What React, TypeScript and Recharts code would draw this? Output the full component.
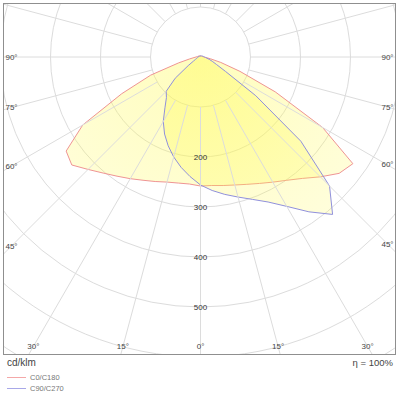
import { RadarChart, Radar, PolarGrid, PolarAngleAxis, PolarRadiusAxis } from 'recharts';

// gamma 0..180 in 5° steps (0 = nadir), values in cd/klm
const gammaSteps = [0, 5, 10, 15, 20, 25, 30, 35, 40, 45, 50, 55, 60, 65, 70, 75, 80, 85, 90, 95, 100, 105, 110, 115, 120, 125, 130, 135, 140, 145, 150, 155, 160, 165, 170, 175, 180];

const c0 = [258, 258, 261, 265, 271, 279, 289, 301, 317, 339, 362, 372, 282, 165, 84, 42, 20, 10, 6, 5, 4, 4, 3, 3, 3, 3, 2, 2, 2, 2, 2, 2, 2, 2, 2, 2, 2];
const c180 = [256, 255, 256, 259, 265, 272, 281, 291, 303, 318, 336, 328, 272, 174, 106, 45, 22, 13, 9, 7, 6, 5, 5, 4, 4, 4, 3, 3, 3, 3, 2, 2, 2, 2, 2, 2, 2];
const c90 = [256, 268, 279, 290, 303, 320, 345, 378, 411, 365, 262, 135, 58, 35, 25, 18, 13, 10, 8, 7, 6, 5, 5, 4, 4, 4, 3, 3, 3, 3, 2, 2, 2, 2, 2, 2, 2];
const c270 = [256, 240, 224, 207, 189, 170, 149, 124, 106, 97, 66, 30, 16, 11, 8, 7, 6, 5, 5, 4, 4, 4, 3, 3, 3, 3, 3, 2, 2, 2, 2, 2, 2, 2, 2, 2, 2];

const radiusLabels = [200, 300, 400, 500];
const angleTicks = [0, 15, 30, 45, 60, 75, 90, 105, 120, 135, 150, 165, 180, 195, 210, 225, 240, 255, 270, 285, 300, 315, 330, 345];
const gridRadii = [50, 100, 150, 200, 250, 300, 350];

const W = 391;
const H = 350;
const CX = 196.5;
const CY = 53;
const R = 350;
const INSET = 7.5;

// theta runs once round the circle from the nadir; right half is C0 / C90, left half C180 / C270
const rows = gammaSteps
  .concat(gammaSteps.slice(1, -1).reverse().map((g) => 360 - g))
  .map((theta, i) => {
    const right = theta <= 180;
    const idx = right ? i : 72 - i;
    return {
      theta,
      c0c180: right ? c0[idx] : c180[idx],
      c90c270: right ? c90[idx] : c270[idx],
    };
  });

const font = '"Liberation Sans", Arial, sans-serif';

function AngleTick(props: any) {
  const v = props.payload?.value;
  if (v === undefined || (v > 90 && v < 270)) return null;
  const rad = (v * Math.PI) / 180;
  const dx = Math.sin(rad);
  const dy = Math.cos(rad);
  let t = Infinity;
  if (dx > 1e-6) t = Math.min(t, (W - INSET - CX) / dx);
  if (dx < -1e-6) t = Math.min(t, (INSET - CX) / dx);
  if (dy > 1e-6) t = Math.min(t, (H - INSET - CY) / dy);
  const gamma = v <= 180 ? v : 360 - v;
  return (
    <text x={CX + t * dx} y={CY + t * dy} textAnchor="middle" dominantBaseline="central" fontSize={8} fill="#444" fontFamily={font}>
      {gamma}°
    </text>
  );
}

function RadiusTick(props: any) {
  const v = props.payload?.value;
  if (!radiusLabels.includes(v)) return null;
  return (
    <text x={props.x} y={props.y} textAnchor="middle" dominantBaseline="central" fontSize={8} fill="#333" fontFamily={font}>
      {v}
    </text>
  );
}

export default function App() {
  return (
    <div style={{ position: 'absolute', left: 0, top: 0, width: 400, height: 398, background: '#fff', fontFamily: font }}>
      <div style={{ position: 'absolute', left: 3, top: 3, width: W + 2, height: H + 2, border: '1px solid #8f8f8f', boxSizing: 'border-box', overflow: 'hidden' }}>
        <RadarChart
          width={W}
          height={H}
          data={rows}
          cx={CX}
          cy={CY}
          outerRadius={R}
          startAngle={-90}
          endAngle={270}
          margin={{ top: 0, right: 0, bottom: 0, left: 0 }}
        >
          <defs>
            <radialGradient id="lightFill" gradientUnits="userSpaceOnUse" cx={CX} cy={CY} r={R}>
              <stop offset="0%" stopColor="#fffa50" stopOpacity={0.38} />
              <stop offset="100%" stopColor="#fffa50" stopOpacity={0.08} />
            </radialGradient>
          </defs>
          <PolarGrid gridType="circle" radialLines={false} polarRadius={gridRadii} stroke="#dcdcdc" />
          <PolarAngleAxis
            dataKey="theta"
            type="number"
            domain={[0, 360]}
            ticks={angleTicks}
            orientation="inner"
            tickSize={R - gridRadii[0]}
            axisLine={false}
            tickLine={{ stroke: '#dcdcdc' }}
            tick={<AngleTick />}
          />
          <PolarRadiusAxis angle={-90} domain={[0, 700]} tickCount={8} axisLine={false} tick={<RadiusTick />} />
          <Radar dataKey="c0c180" name="C0/C180" stroke="#ef9494" strokeWidth={1} fill="url(#lightFill)" fillOpacity={1} isAnimationActive={false} />
          <Radar dataKey="c90c270" name="C90/C270" stroke="#9090dc" strokeWidth={1} fill="url(#lightFill)" fillOpacity={1} isAnimationActive={false} />
        </RadarChart>
      </div>
      <div style={{ position: 'absolute', left: 7, top: 357, fontSize: 10, color: '#444' }}>cd/klm</div>
      <div style={{ position: 'absolute', right: 7, top: 357, fontSize: 9.5, color: '#444' }}>η = 100%</div>
      {[
        { name: 'C0/C180', color: '#f4a8a8', top: 373 },
        { name: 'C90/C270', color: '#a8a8e8', top: 384 },
      ].map((l) => (
        <div key={l.name} style={{ position: 'absolute', left: 7, top: l.top, display: 'flex', alignItems: 'center', fontSize: 7.5, color: '#777' }}>
          <span style={{ display: 'inline-block', width: 19, height: 0, borderTop: `1px solid ${l.color}`, marginRight: 4 }} />
          {l.name}
        </div>
      ))}
    </div>
  );
}
